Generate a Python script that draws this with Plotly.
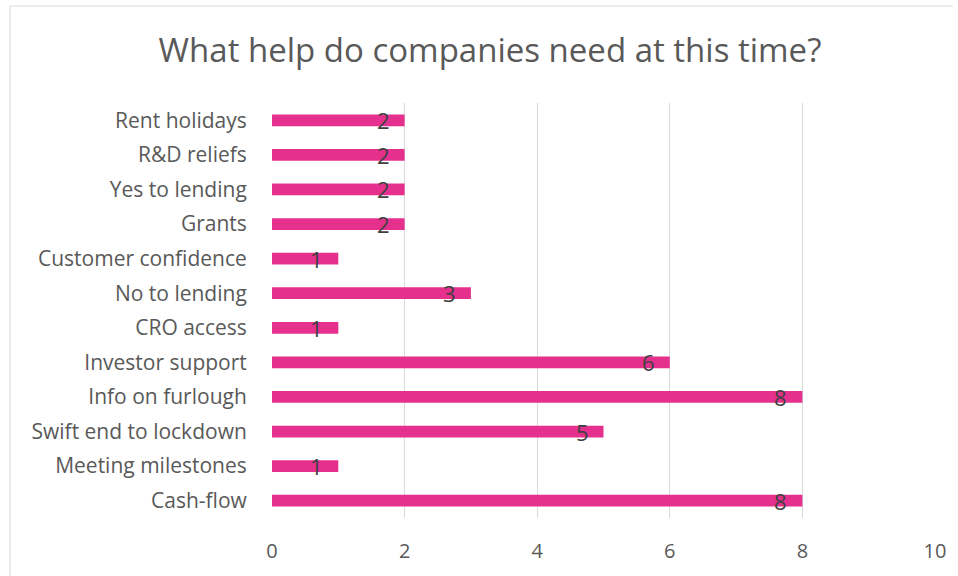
import plotly.graph_objects as go

categories = ["Cash-flow", "Meeting milestones", "Swift end to lockdown", "Info on furlough",
              "Investor support", "CRO access", "No to lending", "Customer confidence",
              "Grants", "Yes to lending", "R&D reliefs", "Rent holidays"]
values = [8, 1, 5, 8, 6, 1, 3, 1, 2, 2, 2, 2]
x_ticks = [0, 2, 4, 6, 8, 10]

W, H = 958, 576
L, R, T, B = 272, 18, 103, 58
pw, ph = W - L - R, H - T - B

FONT = "Open Sans"

fig = go.Figure()
fig.add_trace(go.Bar(
    y=categories, x=values, orientation="h",
    marker=dict(color="#E6308E", line=dict(width=0)),
    width=0.34, hoverinfo="x+y",
))

annotations = []
for c, v in zip(categories, values):
    annotations.append(dict(
        x=v, y=c, xref="x", yref="y", text=str(v), showarrow=False,
        xanchor="right", yanchor="middle", xshift=-13, yshift=0,
        font=dict(family=FONT, size=22, color="#404040"),
    ))

def px_x(p):
    return (p - L) / pw

def px_y(p):
    return (H - B - p) / ph

border = dict(color="#D9D9D9", width=1)
fig.update_layout(
    width=W, height=H,
    margin=dict(l=L, r=R, t=T, b=B),
    paper_bgcolor="white", plot_bgcolor="white",
    title=dict(text="What help do companies need at this time?",
               x=490 / W, xanchor="center", y=1 - 50 / H, yanchor="middle",
               font=dict(family=FONT, size=33, color="#595959")),
    showlegend=False,
    annotations=annotations,
    shapes=[
        dict(type="line", xref="paper", yref="paper",
             x0=px_x(8), x1=px_x(8), y0=px_y(576), y1=px_y(6), line=border, layer="below"),
        dict(type="line", xref="paper", yref="paper",
             x0=px_x(8), x1=px_x(958), y0=px_y(6), y1=px_y(6), line=border, layer="below"),
    ],
    xaxis=dict(range=[0, 10], tickvals=x_ticks, showgrid=True, gridcolor="#D9D9D9",
               gridwidth=1, zeroline=False, showline=False,
               ticks="outside", ticklen=15, tickcolor="rgba(0,0,0,0)",
               tickfont=dict(family=FONT, size=20, color="#595959")),
    yaxis=dict(showgrid=False, zeroline=False, showline=False,
               ticks="outside", ticklen=20, tickcolor="rgba(0,0,0,0)",
               tickfont=dict(family=FONT, size=21, color="#595959")),
)

fig.write_html("out.html")
